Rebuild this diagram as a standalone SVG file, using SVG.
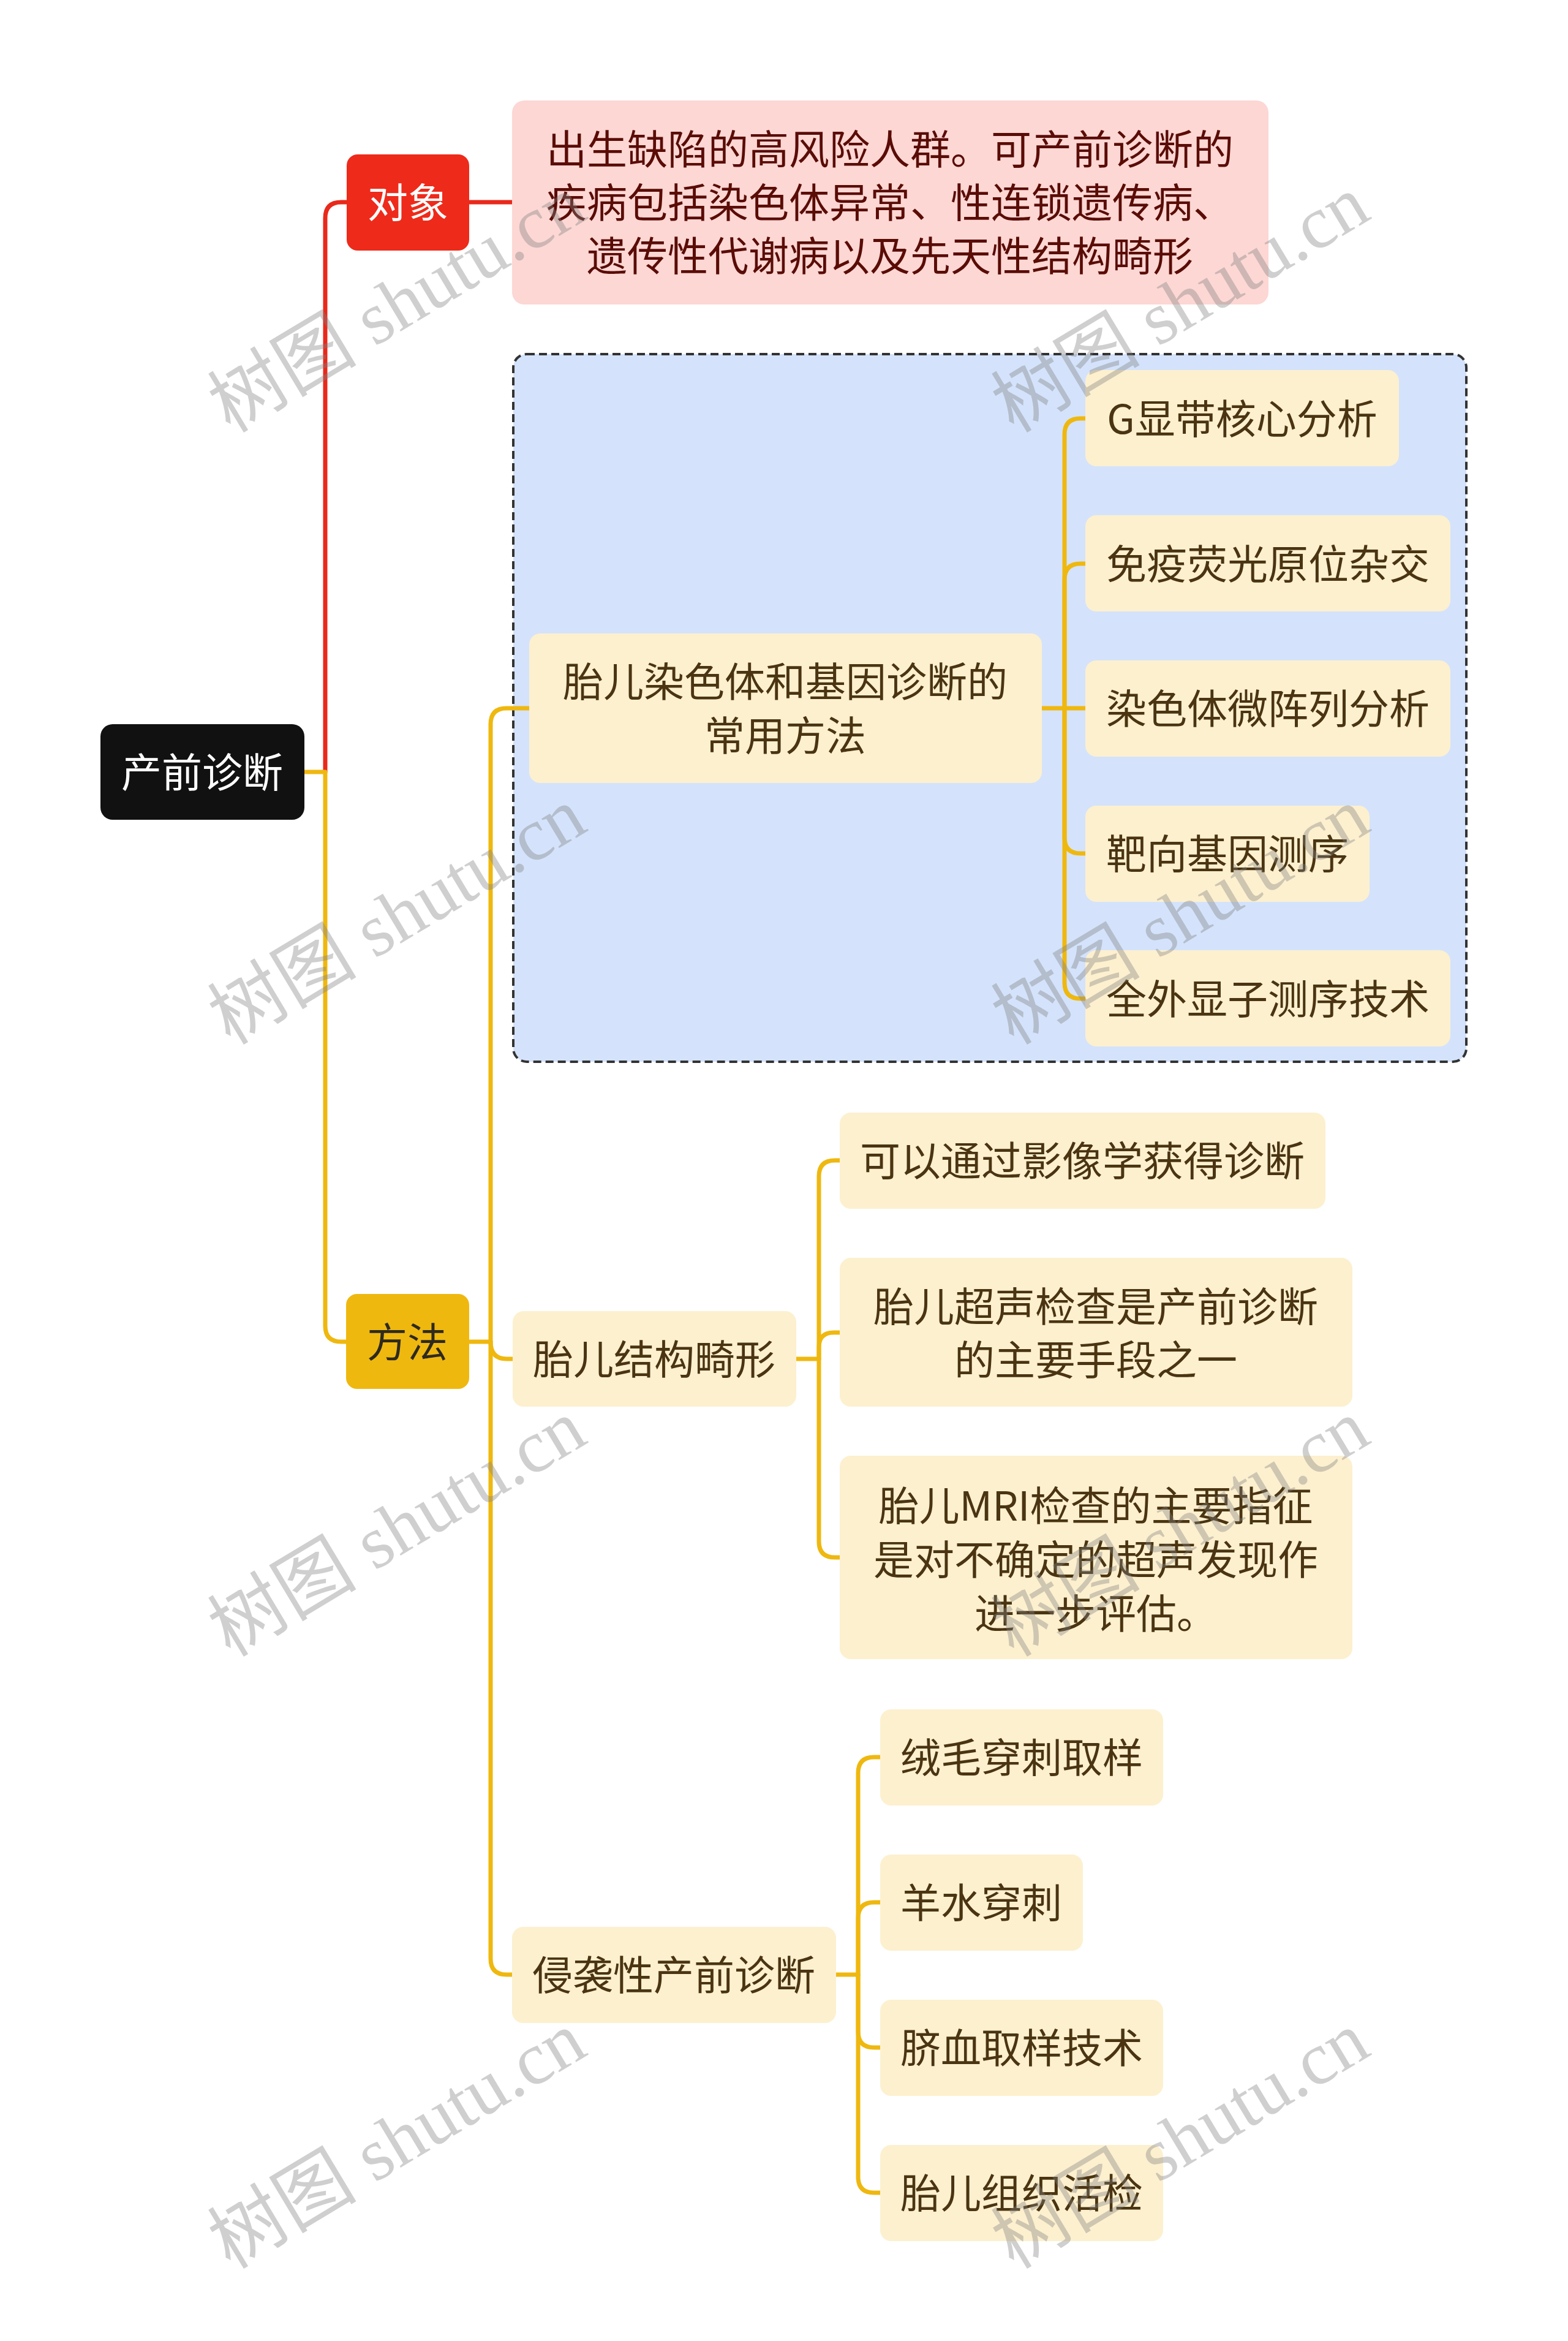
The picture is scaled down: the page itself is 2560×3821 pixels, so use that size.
<svg xmlns="http://www.w3.org/2000/svg" width="2560" height="3821" viewBox="0 0 2560 3821">
<style>
.t{font-family:"Noto Sans CJK SC","Noto Sans",sans-serif;font-size:66px;text-anchor:middle}
.tw{fill:#ffffff}
.tp{fill:#5a0c06}
.ty{fill:#4a3411}
.td{fill:#2e2a20}
.n{fill:#fdf0cf}
.cy{fill:none;stroke:#efb80f;stroke-width:7;stroke-linecap:round;stroke-linejoin:round}
.cr{fill:none;stroke:#e8291b;stroke-width:7;stroke-linecap:round;stroke-linejoin:round}
.wm{font-family:"Liberation Serif","Noto Sans CJK SC",serif;font-size:122px;fill:#808080;fill-opacity:0.38}
</style>
<rect width="2560" height="3821" fill="#ffffff"/>
<g id="boundary">
<rect x="838" y="578" width="1556" height="1155" rx="22" fill="#d4e3fb" stroke="#333333" stroke-width="4" stroke-dasharray="13,7"/>
</g>
<g id="connectors">
<path class="cr" d="M531,1260 V356 Q531,330 557,330 H566"/>
<path class="cr" d="M766,330 H836"/>
<path class="cy" d="M497,1260 H531 V2164 Q531,2190 557,2190 H565"/>
<path class="cy" d="M766,2190 H801 V1182 Q801,1156 827,1156 H864"/>
<path class="cy" d="M801,2190 Q801,2218 827,2218 H837"/>
<path class="cy" d="M801,2190 V3197 Q801,3223 827,3223 H836"/>
<path class="cy" d="M1701,1156 H1738 V709 Q1738,683 1764,683 H1772"/>
<path class="cy" d="M1738,1156 V946 Q1738,920 1764,920 H1772"/>
<path class="cy" d="M1738,1156 H1772"/>
<path class="cy" d="M1738,1156 V1367 Q1738,1393 1764,1393 H1772"/>
<path class="cy" d="M1738,1156 V1604 Q1738,1630 1764,1630 H1772"/>
<path class="cy" d="M1300,2218 H1337 V1920 Q1337,1894 1363,1894 H1371"/>
<path class="cy" d="M1337,2218 V2199 Q1337,2175 1361,2175 H1371"/>
<path class="cy" d="M1337,2218 V2516 Q1337,2542 1363,2542 H1371"/>
<path class="cy" d="M1365,3223 H1401 V2894 Q1401,2868 1427,2868 H1437"/>
<path class="cy" d="M1401,3223 V3131 Q1401,3105 1427,3105 H1437"/>
<path class="cy" d="M1401,3223 V3316 Q1401,3342 1427,3342 H1437"/>
<path class="cy" d="M1401,3223 V3553 Q1401,3579 1427,3579 H1437"/>
</g>
<g id="root">
<rect x="164" y="1182" width="333" height="156" rx="20" fill="#111111"/>
<text class="t tw" x="330" y="1285">产前诊断</text>
</g>
<g id="duixiang">
<rect x="566" y="252" width="200" height="157" rx="18" fill="#ee2a1a"/>
<text class="t tw" x="666" y="355">对象</text>
</g>
<g id="duixiang-desc">
<rect x="836" y="164" width="1235" height="333" rx="20" fill="#fcd7d4"/>
<text class="t tp" x="1453" y="268">出生缺陷的高风险人群。可产前诊断的</text>
<text class="t tp" x="1453" y="355">疾病包括染色体异常、性连锁遗传病、</text>
<text class="t tp" x="1453" y="442">遗传性代谢病以及先天性结构畸形</text>
</g>
<g id="fangfa">
<rect x="565" y="2112" width="201" height="155" rx="18" fill="#efb80f"/>
<text class="t td" x="665" y="2215">方法</text>
</g>
<g id="n-chrom">
<rect class="n" x="864" y="1034" width="837" height="244" rx="18"/>
<text class="t ty" x="1282" y="1137">胎儿染色体和基因诊断的</text>
<text class="t ty" x="1282" y="1225">常用方法</text>
</g>
<g id="n-g">
<rect class="n" x="1772" y="604" width="512" height="157" rx="18"/>
<text class="t ty" x="2028" y="708">G显带核心分析</text>
</g>
<g id="n-fish">
<rect class="n" x="1772" y="841" width="596" height="157" rx="18"/>
<text class="t ty" x="2070" y="945">免疫荧光原位杂交</text>
</g>
<g id="n-cma">
<rect class="n" x="1772" y="1078" width="596" height="157" rx="18"/>
<text class="t ty" x="2070" y="1181">染色体微阵列分析</text>
</g>
<g id="n-target">
<rect class="n" x="1772" y="1315" width="464" height="157" rx="18"/>
<text class="t ty" x="2004" y="1418">靶向基因测序</text>
</g>
<g id="n-wes">
<rect class="n" x="1772" y="1551" width="596" height="157" rx="18"/>
<text class="t ty" x="2070" y="1655">全外显子测序技术</text>
</g>
<g id="n-struct">
<rect class="n" x="837" y="2140" width="463" height="156" rx="18"/>
<text class="t ty" x="1068" y="2243">胎儿结构畸形</text>
</g>
<g id="n-imaging">
<rect class="n" x="1371" y="1816" width="793" height="157" rx="18"/>
<text class="t ty" x="1767" y="1919">可以通过影像学获得诊断</text>
</g>
<g id="n-us">
<rect class="n" x="1371" y="2053" width="837" height="243" rx="18"/>
<text class="t ty" x="1789" y="2157">胎儿超声检查是产前诊断</text>
<text class="t ty" x="1789" y="2244">的主要手段之一</text>
</g>
<g id="n-mri">
<rect class="n" x="1371" y="2376" width="837" height="332" rx="18"/>
<text class="t ty" x="1789" y="2482">胎儿MRI检查的主要指征</text>
<text class="t ty" x="1789" y="2570">是对不确定的超声发现作</text>
<text class="t ty" x="1789" y="2658">进一步评估。</text>
</g>
<g id="n-invasive">
<rect class="n" x="836" y="3145" width="529" height="157" rx="18"/>
<text class="t ty" x="1100" y="3248">侵袭性产前诊断</text>
</g>
<g id="n-cvs">
<rect class="n" x="1437" y="2790" width="462" height="157" rx="18"/>
<text class="t ty" x="1668" y="2893">绒毛穿刺取样</text>
</g>
<g id="n-amnio">
<rect class="n" x="1437" y="3027" width="331" height="157" rx="18"/>
<text class="t ty" x="1602" y="3130">羊水穿刺</text>
</g>
<g id="n-cord">
<rect class="n" x="1437" y="3264" width="462" height="157" rx="18"/>
<text class="t ty" x="1668" y="3367">脐血取样技术</text>
</g>
<g id="n-biopsy">
<rect class="n" x="1437" y="3501" width="462" height="157" rx="18"/>
<text class="t ty" x="1668" y="3604">胎儿组织活检</text>
</g>
<g id="watermarks">
<text class="wm" x="376" y="708" transform="rotate(-31 376 708)">树图 shutu.cn</text>
<text class="wm" x="1655" y="708" transform="rotate(-31 1655 708)">树图 shutu.cn</text>
<text class="wm" x="376" y="1707" transform="rotate(-31 376 1707)">树图 shutu.cn</text>
<text class="wm" x="1655" y="1707" transform="rotate(-31 1655 1707)">树图 shutu.cn</text>
<text class="wm" x="376" y="2706" transform="rotate(-31 376 2706)">树图 shutu.cn</text>
<text class="wm" x="1655" y="2706" transform="rotate(-31 1655 2706)">树图 shutu.cn</text>
<text class="wm" x="376" y="3705" transform="rotate(-31 376 3705)">树图 shutu.cn</text>
<text class="wm" x="1655" y="3705" transform="rotate(-31 1655 3705)">树图 shutu.cn</text>
</g>
</svg>
